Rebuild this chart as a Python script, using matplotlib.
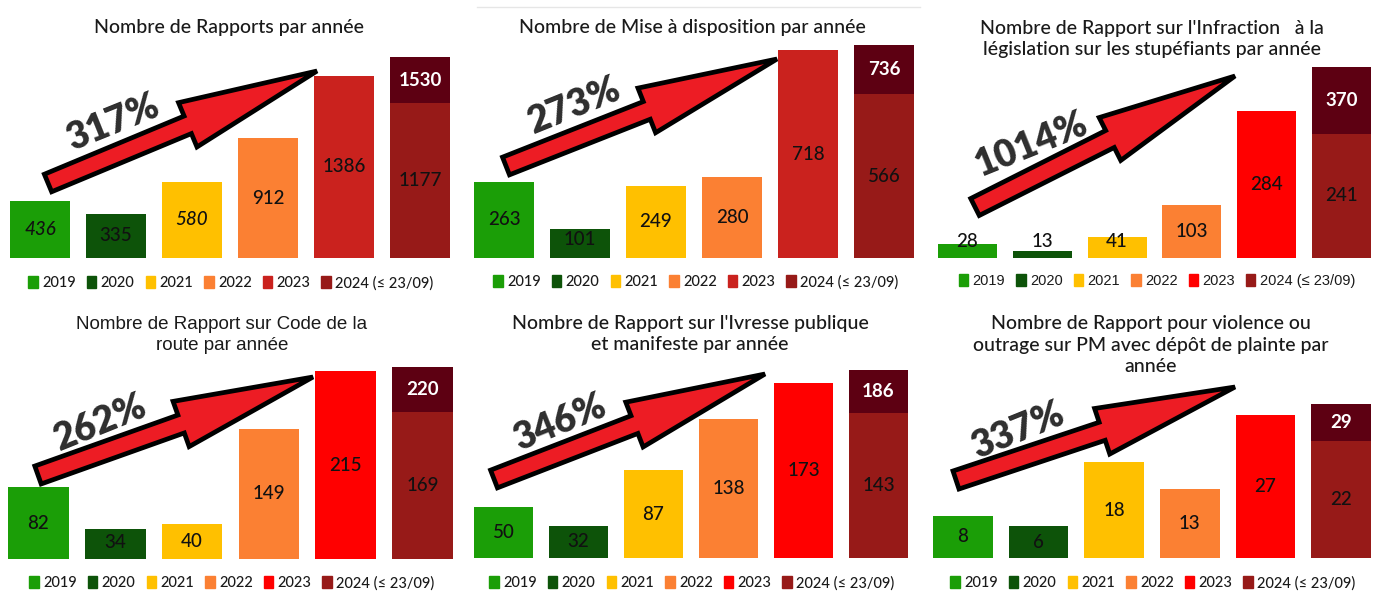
import matplotlib.pyplot as plt
from matplotlib.patches import Patch, Polygon
import numpy as np

plt.rcParams['font.family'] = ['Lato', 'DejaVu Sans']

# ---- data ----
years = ['2019', '2020', '2021', '2022', '2023', '2024 (≤ 23/09)']

rapports = [436, 335, 580, 912, 1386, 1177]
mise_dispo = [263, 101, 249, 280, 718, 566]
stupefiants = [28, 13, 41, 103, 284, 241]
code_route = [82, 34, 40, 149, 215, 169]
ivresse = [50, 32, 87, 138, 173, 143]
violence = [8, 6, 18, 13, 27, 22]

totals_2024 = [1530, 736, 370, 220, 186, 29]
hausses = ['317%', '273%', '1014%', '262%', '346%', '337%']

titles = [
    "Nombre de Rapports par année",
    "Nombre de Mise à disposition par année",
    "Nombre de Rapport sur l'Infraction   à la\nlégislation sur les stupéfiants par année",
    "Nombre de Rapport sur Code de la\nroute par année",
    "Nombre de Rapport sur l'Ivresse publique\net manifeste par année",
    "Nombre de Rapport pour violence ou\noutrage sur PM avec dépôt de plainte par\nannée",
]

# colours
green, dkgreen, yellow, orange = '#1B9E07', '#0D5309', '#FFC000', '#FB8033'
red_dark, red_bright = '#CA221E', '#FF0000'
c2024, c2024_top = '#971A18', '#5D0012'
cols_a = [green, dkgreen, yellow, orange, red_dark, c2024]
cols_b = [green, dkgreen, yellow, orange, red_bright, c2024]

W, H = 1379, 591
fig = plt.figure(figsize=(W / 100, H / 100), dpi=100)

# overlay in pixel coordinates for titles, arrows and percentages
ov = fig.add_axes([0, 0, 1, 1])
ov.set_xlim(0, W)
ov.set_ylim(H, 0)
ov.axis('off')


def fat_arrow(ax, tail, tip, w=9.5, hw=24, hl=140):
    t = np.array(tail, float)
    p = np.array(tip, float)
    d = p - t
    u = d / np.hypot(*d)
    n = np.array([-u[1], u[0]])
    neck = p - u * hl
    pts = [t + n * w, neck + n * w, neck + n * hw, p,
           neck - n * hw, neck - n * w, t - n * w]
    ax.add_patch(Polygon(pts, closed=True, facecolor='#ED1C24',
                         edgecolor='black', lw=3.4, joinstyle='miter'))


def draw_panel(rect, vals, total, cols, legend_xy, italic=(), legend_font='Lato'):
    left, bottom, width, top = rect
    ax = fig.add_axes([left / W, (H - bottom) / H, width / W, (bottom - top) / H])
    x = np.arange(6)
    ax.bar(x, vals, width=0.79, color=cols)
    ax.bar(5, total - vals[5], bottom=vals[5], width=0.79, color=c2024_top)
    ax.set_xlim(-0.5, 5.5)
    ax.set_ylim(0, total)
    ax.axis('off')
    for i, v in enumerate(vals):
        y = max(v / 2, 0.085 * total)
        ax.text(i, y, str(v), ha='center', va='center', fontsize=13.5,
                color='#111111', fontweight='medium',
                style='italic' if i in italic else 'normal', clip_on=False)
    ax.text(5, (vals[5] + total) / 2, str(total), ha='center', va='center',
            fontsize=13.5, fontweight='bold', color='white')
    handles = [Patch(color=c) for c in cols]
    size = 10.5
    ax.legend(handles, years, loc='center',
              bbox_to_anchor=(legend_xy[0] / W, 1 - legend_xy[1] / H),
              bbox_transform=fig.transFigure, ncol=6, frameon=False,
              handlelength=0.65, handleheight=0.9, handletextpad=0.3,
              columnspacing=0.75, borderpad=0.1, labelcolor='#1a1a1a',
              prop={'family': [legend_font, 'DejaVu Sans'], 'size': size,
                    'weight': 'medium'})
    return ax


draw_panel((2, 258, 456, 57), rapports, totals_2024[0], cols_a, (231, 283), italic=(0, 2))
draw_panel((466, 258, 456, 45), mise_dispo, totals_2024[1], cols_a, (696, 282))
draw_panel((930, 258, 449, 67), stupefiants, totals_2024[2], cols_b, (1157, 281),
           legend_font='Liberation Sans')
draw_panel((0, 559, 461, 367), code_route, totals_2024[3], cols_b, (232, 583))
draw_panel((466, 558, 450, 370), ivresse, totals_2024[4], cols_b, (692, 583))
draw_panel((925, 558, 454, 404), violence, totals_2024[5], cols_b, (1153, 583))

# titles
title_pos = [(229, 27), (692, 27), (1152, 39), (222, 335), (690, 334), (1151, 345)]
for k, (t, (tx, ty)) in enumerate(zip(titles, title_pos)):
    fam = ['Liberation Sans', 'DejaVu Sans'] if k == 3 else ['Lato', 'DejaVu Sans']
    ov.text(tx, ty, t, ha='center', va='center', fontsize=14 if k != 3 else 13.5,
            color='#1a1a1a', fontweight='medium', linespacing=1.3, family=fam)

# thin separator line at top of second panel
ov.plot([477, 920], [7, 7], color='#e6e6e6', lw=1)

# arrows and growth percentages
arrows = [((48, 183), (317, 71)), ((506, 166), (777, 59)), ((975, 207), (1235, 76)),
          ((38, 475), (313, 377)), ((494, 479), (765, 374)), ((956, 480), (1235, 387))]
pct_pos = [(113, 123), (575, 106), (1031, 145), (101, 423), (560, 423), (1018, 431)]
for (tail, tip), pct, (px, py) in zip(arrows, hausses, pct_pos):
    fat_arrow(ov, tail, tip)
    ov.text(px, py, pct, rotation=22, rotation_mode='anchor', ha='center', va='center',
            fontsize=27, fontweight='heavy', color='#2e2e2e')

fig.savefig('out.png', dpi=100)
